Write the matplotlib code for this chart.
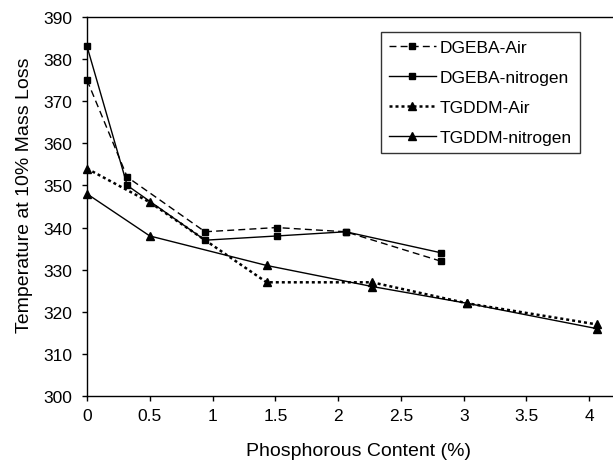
import matplotlib
matplotlib.use('Agg')
import matplotlib.pyplot as plt

plt.rcParams['font.family'] = ['Liberation Sans', 'DejaVu Sans']

# Phosphorous content (%) and temperature at 10% mass loss
dgeba_x = [0, 0.32, 0.94, 1.51, 2.06, 2.82]
dgeba_air = [375, 352, 339, 340, 339, 332]
dgeba_n2 = [383, 350, 337, 338, 339, 334]

tgddm_x = [0, 0.5, 1.43, 2.27, 3.03, 4.06]
tgddm_air = [354, 346, 327, 327, 322, 317]
tgddm_n2 = [348, 338, 331, 326, 322, 316]

fig = plt.figure(figsize=(6.13, 4.64), dpi=100)
# plot area runs past the right edge of the picture, as in the original crop
ax = fig.add_axes([0.142, 0.1444, 0.9217, 0.8168])

ax.plot(dgeba_x, dgeba_air, color='black', linestyle=(0, (5, 3)), linewidth=1.0,
        marker='s', markersize=5, label='DGEBA-Air', clip_on=False)
ax.plot(dgeba_x, dgeba_n2, color='black', linestyle='-', linewidth=1.0,
        marker='s', markersize=5, label='DGEBA-nitrogen', clip_on=False)
ax.plot(tgddm_x, tgddm_air, color='black', linestyle=(0, (1.2, 1.2)), linewidth=1.8,
        marker='^', markersize=5.5, label='TGDDM-Air', clip_on=False)
ax.plot(tgddm_x, tgddm_n2, color='black', linestyle='-', linewidth=1.0,
        marker='^', markersize=5.5, label='TGDDM-nitrogen', clip_on=False)

ax.set_xlim(0, 4.5)
ax.set_ylim(300, 390)
ax.set_xticks([0, 0.5, 1, 1.5, 2, 2.5, 3, 3.5, 4])
ax.set_xticklabels(['0', '0.5', '1', '1.5', '2', '2.5', '3', '3.5', '4'])
ax.set_yticks(range(300, 391, 10))
ax.tick_params(direction='out', length=3.5, width=1, labelsize=12.5, colors='black')
ax.tick_params(axis='x', pad=5)
ax.tick_params(axis='y', pad=7)
for s in ax.spines.values():
    s.set_linewidth(1.0)

ax.set_xlabel('Phosphorous Content (%)', fontsize=14)
ax.set_ylabel('Temperature at 10% Mass Loss', fontsize=14)
ax.xaxis.set_label_coords(0.48, -0.121)
ax.yaxis.set_label_coords(-0.0956, 0.533)

leg = ax.legend(loc='upper left', bbox_to_anchor=(381 / 613, 1 - 33 / 464),
                bbox_transform=fig.transFigure, borderaxespad=0, fontsize=12.5,
                frameon=True, fancybox=False, edgecolor='black', handlelength=2.7,
                labelspacing=0.86, borderpad=0.45, handletextpad=0.25)
leg.get_frame().set_linewidth(1.0)

fig.savefig('out.png', dpi=100)
